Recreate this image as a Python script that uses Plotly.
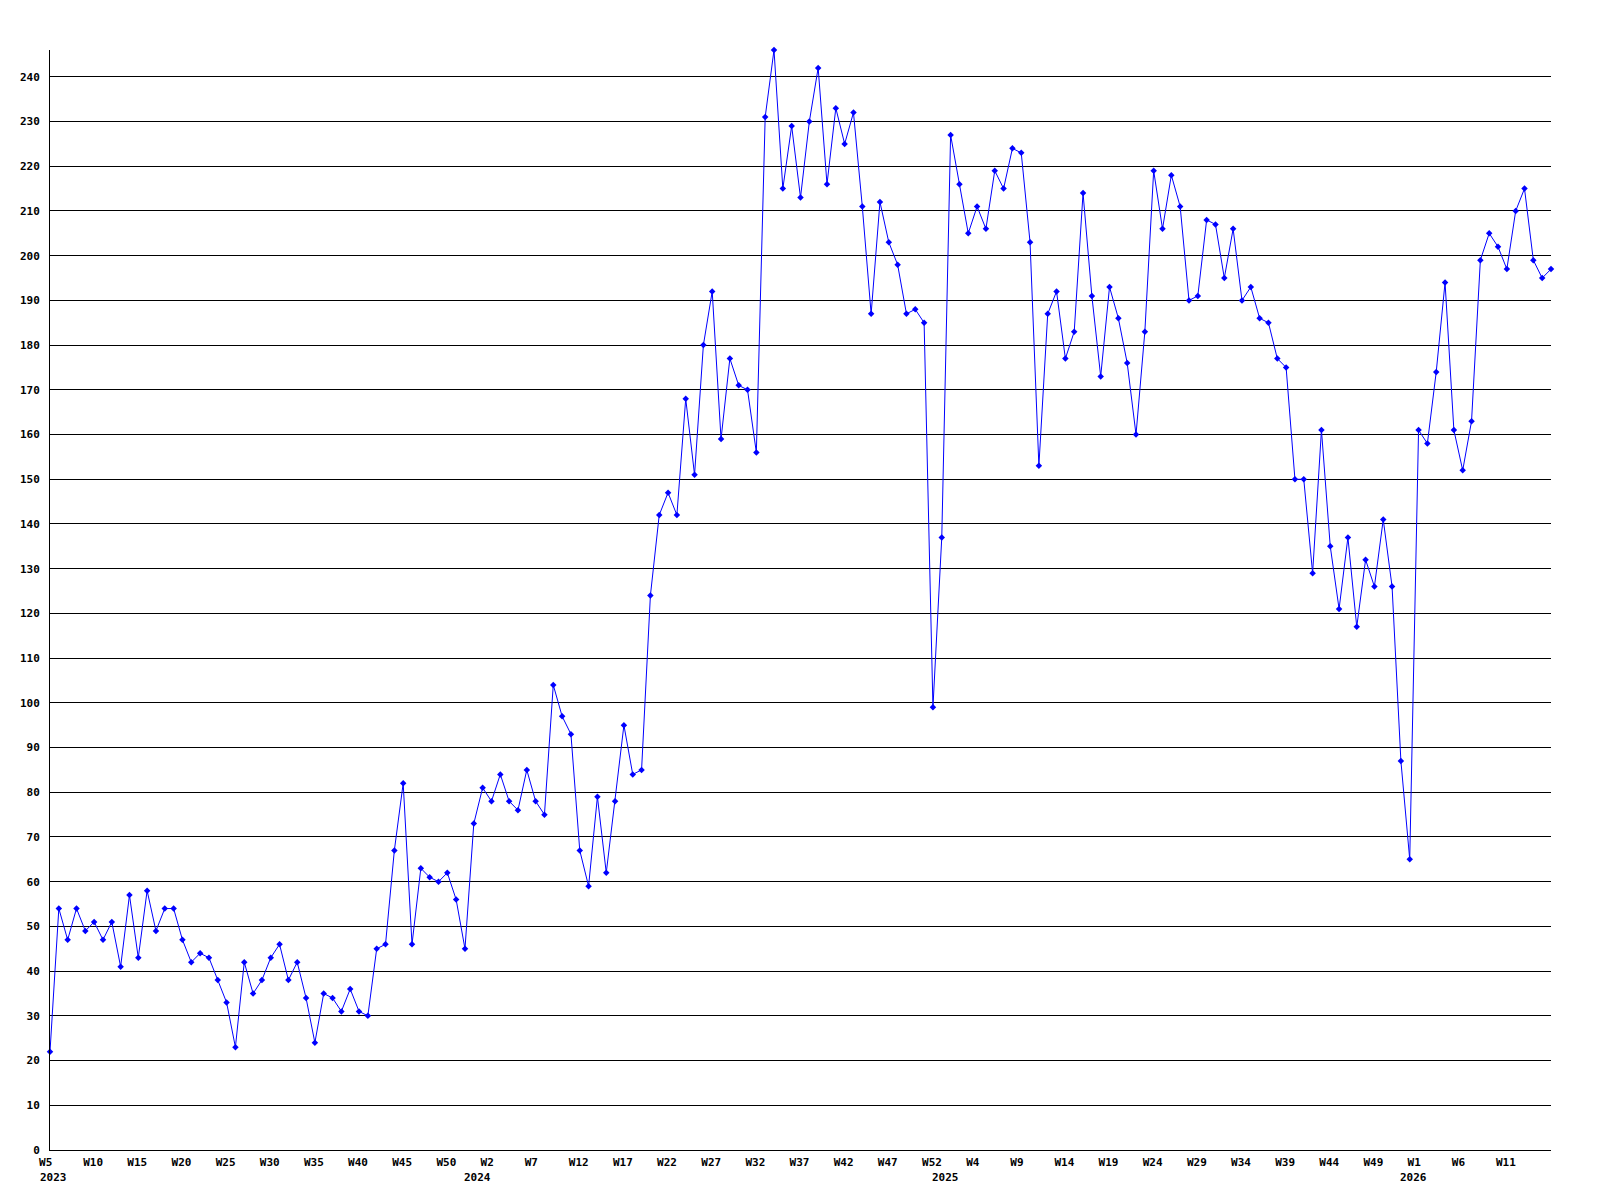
import plotly.graph_objects as go

# Weekly values, 2023-W5 .. 2026-W16 (one value per week slot)
values = [
    22, 54, 47, 54, 49, 51, 47, 51, 41, 57, 43, 58, 49, 54, 54, 47, 42, 44, 43, 38,
    33, 23, 42, 35, 38, 43, 46, 38, 42, 34, 24, 35, 34, 31, 36, 31, 30, 45, 46, 67,
    82, 46, 63, 61, 60, 62, 56, 45, 73, 81, 78, 84, 78, 76, 85, 78, 75, 104, 97, 93,
    67, 59, 79, 62, 78, 95, 84, 85, 124, 142, 147, 142, 168, 151, 180, 192, 159, 177, 171, 170,
    156, 231, 246, 215, 229, 213, 230, 242, 216, 233, 225, 232, 211, 187, 212, 203, 198, 187, 188, 185,
    99, 137, 227, 216, 205, 211, 206, 219, 215, 224, 223, 203, 153, 187, 192, 177, 183, 214, 191, 173,
    193, 186, 176, 160, 183, 219, 206, 218, 211, 190, 191, 208, 207, 195, 206, 190, 193, 186, 185, 177,
    175, 150, 150, 129, 161, 135, 121, 137, 117, 132, 126, 141, 126, 87, 65, 161, 158, 174, 194, 161,
    152, 163, 199, 205, 202, 197, 210, 215, 199, 195, 197,
]

# Years and number of weekly slots each contributes to the series
years = ["2023", "2024", "2025", "2026"]
year_week_counts = [48, 53, 53, 17]

# Week tick labels (every 5th week)
tick_labels = [
    "W5", "W10", "W15", "W20", "W25", "W30", "W35", "W40", "W45", "W50",
    "W2", "W7", "W12", "W17", "W22", "W27", "W32", "W37", "W42", "W47",
    "W52", "W4", "W9", "W14", "W19", "W24", "W29", "W34", "W39", "W44",
    "W49", "W1", "W6", "W11",
]

y_ticks = list(range(0, 250, 10))

x_idx = list(range(len(values)))
tickvals = x_idx[::5][:len(tick_labels)]
# left-align labels (monospace): pad to 3 characters
ticktext = [t + "\u00a0" * (3 - len(t)) for t in tick_labels]

FONT = dict(family="DejaVu Sans Mono", size=11, color="black", weight="bold")

fig = go.Figure()
fig.add_trace(go.Scatter(
    x=x_idx, y=values, mode="lines+markers",
    line=dict(color="#0000FF", width=1),
    marker=dict(symbol="diamond", size=5, color="#0000FF", line=dict(width=0)),
    cliponaxis=False, showlegend=False, hoverinfo="skip",
))

# year labels under the week labels
acc = 0
for yr, c in zip(years, year_week_counts):
    fig.add_annotation(x=acc, y=0, xref="x", yref="paper", text=yr, showarrow=False,
                       xanchor="left", yanchor="top", xshift=-12, yshift=-19, font=FONT)
    acc += c

fig.update_layout(
    width=1600, height=1200,
    margin=dict(l=50, r=49, t=50, b=50, pad=0),
    paper_bgcolor="white", plot_bgcolor="white",
    showlegend=False,
    xaxis=dict(
        range=[0, len(values) - 1], tickmode="array", tickvals=tickvals, ticktext=ticktext,
        showgrid=False, zeroline=False, showline=True, linecolor="black", linewidth=1,
        ticks="", tickfont=FONT, ticklabelstandoff=2, ticklabelshift=-1,
    ),
    yaxis=dict(
        range=[0, max(values)], tickmode="array", tickvals=y_ticks,
        showgrid=True, gridcolor="black", gridwidth=1, zeroline=False,
        showline=True, linecolor="black", linewidth=1,
        ticks="", tickfont=FONT, ticklabelstandoff=7,
    ),
)

fig.write_html("out.html", config={"displayModeBar": False},
               post_script="document.body.style.margin='0';")
